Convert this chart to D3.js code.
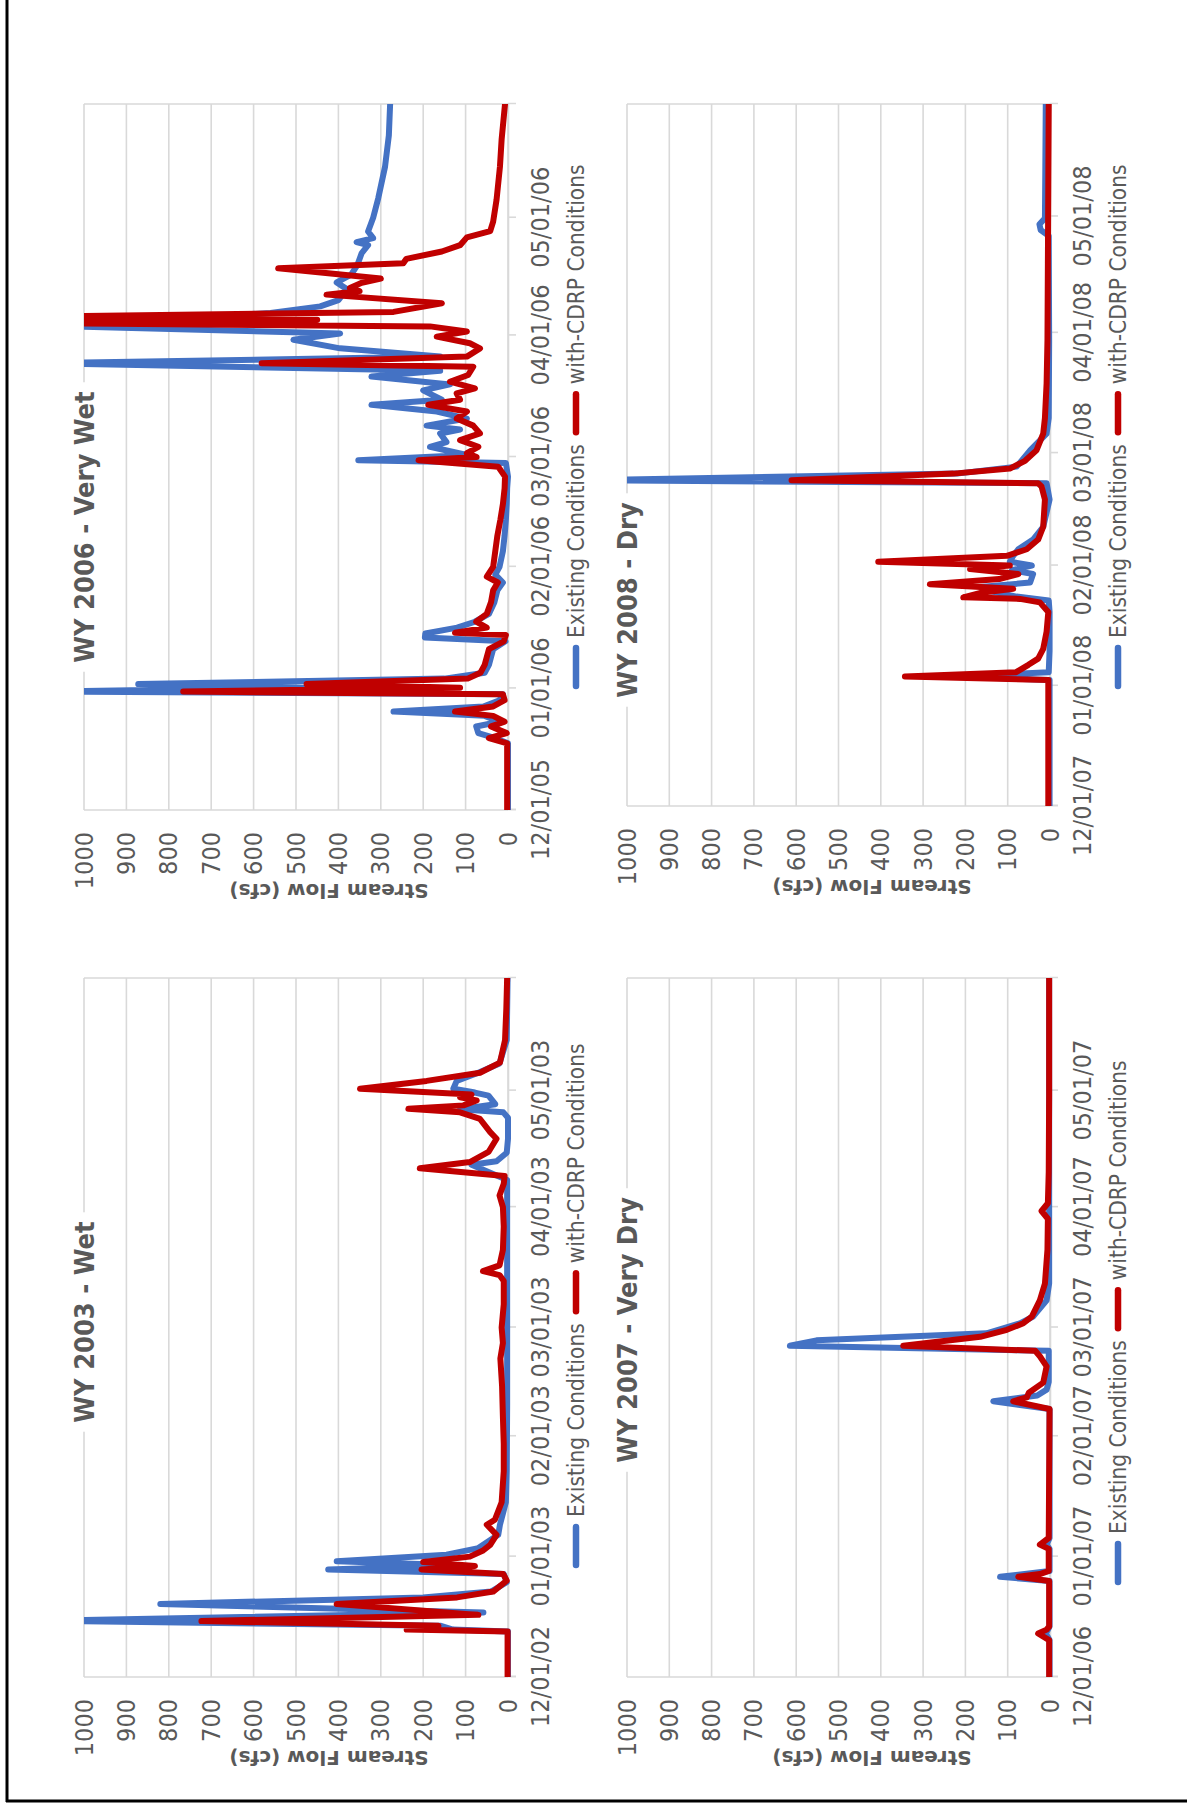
<!DOCTYPE html>
<html>
<head>
<meta charset="utf-8">
<script src="https://cdn.jsdelivr.net/npm/d3@7"></script>
<style>
  body { margin: 0; background: #fff; }
  svg { display: block; }
  text { fill: #595959; }
</style>
</head>
<body>
<svg id="page" width="1187" height="1809"></svg>
<script>
// stream flow, [days after Dec 1, cfs]
var wy2006Existing = [[0,0],[17,0],[18.3,30],[19.6,70],[21.3,75],[22.5,20],[24,55],[25.1,270],[26.4,58],[28,20],[29.5,12],[30.2,1100],[31.2,480],[32.1,872],[33.5,150],[35,55],[37,45],[39,40],[41,35],[43,6],[44,196],[45,195],[46.5,120],[48,78],[50,45],[53,32],[56,25],[58,12],[60,30],[62,20],[66,12],[70,8],[74,5],[78,3],[82,2],[85,0],[88.5,5],[89.2,353],[90.5,97],[92.6,184],[93.8,145],[96,160],[97,113],[98,192],[99.8,97],[101.6,168],[103.3,322],[104.6,156],[107,200],[108.5,137],[110.5,322],[112,160],[113.9,1100],[115.6,160],[117.7,396],[119.9,506],[121.5,396],[123.5,1100],[126.7,560],[128.4,443],[130,400],[132.8,380],[134.5,404],[136.5,370],[139,355],[142,345],[144,330],[144.8,357],[145.8,318],[147.5,330],[151,318],[156,306],[164,290],[172,281],[180,278]];
var wy2006Cdrp = [[0,2],[17,2],[18.3,45],[19.6,3],[21.3,40],[22.5,8],[24,35],[25.1,125],[26.4,35],[28,8],[29.5,12],[30.2,766],[31.2,113],[32.1,475],[33.5,95],[35,65],[37,55],[39,50],[41,45],[43,10],[44.6,5],[45.2,125],[46.5,50],[48,75],[50,50],[53,40],[56,35],[58,24],[59.5,50],[62,35],[66,30],[70,25],[74,18],[78,12],[82,8],[85,7],[87.5,23],[89.2,211],[90,74],[91,97],[92.6,70],[94.3,113],[96,66],[98,82],[99.8,121],[101.6,97],[103.3,188],[104.6,113],[106.2,121],[107.5,78],[109.2,137],[110.9,94],[113,82],[113.9,581],[115.6,97],[117.7,66],[119,90],[120.7,168],[122,97],[123.3,184],[124.1,1100],[125,450],[125.8,1100],[127,270],[129.2,156],[131.4,428],[132.3,350],[133.1,373],[134.4,345],[135.5,300],[138.1,542],[139.4,247],[140.5,240],[142.4,156],[144,113],[146,97],[147.6,42],[150,35],[155.6,27],[164,19],[171,15],[180,7]];

var wy2008Existing = [[0,1],[32.5,1],[33.4,230],[34.5,3],[40,1],[50,1],[53,3],[54,79],[55.5,145],[56.5,165],[57.6,47],[59.8,40],[60.8,90],[62,43],[63,95],[64.5,87],[66.2,75],[68.7,40],[72,16],[79,1],[83.2,8],[84,1100],[85.7,220],[87.5,79],[91.7,47],[96,8],[100,3],[120,2],[147,3],[148.5,22],[150,25],[151.5,12],[165,11],[181,10]];
var wy2008Cdrp = [[0,4],[32.5,4],[33.4,343],[34.5,80],[36.4,51],[38,28],[40.5,16],[45,8],[50,4],[52.5,24],[53.4,71],[53.8,205],[55,162],[56,87],[57.2,284],[58.5,120],[59.8,75],[61.1,189],[62,95],[63,406],[64.5,102],[66.2,55],[68.7,28],[72,16],[79,12],[82.4,20],[83.2,28],[84,611],[85.7,228],[87,95],[89,59],[91.7,32],[96,16],[100,12],[109,8],[120,6],[140,5],[160,4],[181,3]];

var wy2003Existing = [[0,0],[11.7,0],[12.2,130],[13.2,160],[14.5,1100],[16.6,58],[18.8,820],[20.5,200],[22,40],[24.4,3],[26.5,10],[27.7,424],[28.8,120],[29.8,404],[31.5,145],[33.2,70],[36.6,23],[39.2,19],[45,5],[53,3],[70,2],[100,2],[128,2],[131.9,86],[132.8,27],[135,3],[138.6,0],[144,0],[145.4,11],[146.2,113],[147.5,30],[149.7,46],[150.5,78],[151.5,129],[153.5,121],[155.6,70],[158,20],[164,3],[180,1]];
var wy2003Cdrp = [[0,1],[11.7,1],[12.2,239],[13.2,164],[14.4,723],[16,70],[18.8,404],[20.5,120],[22,35],[24.8,3],[26.5,11],[27.7,204],[28.6,78],[29.6,200],[31,90],[32.5,60],[34,42],[36.6,27],[39.2,50],[40.5,31],[45,15],[53,10],[60,10],[67,12],[75,14],[82,18],[86,12],[90,15],[96,10],[102,10],[103.5,20],[104.5,59],[106,20],[110,12],[116,10],[121,12],[124,20],[127,10],[129,8],[131,208],[132.6,90],[135.2,46],[138.6,27],[140.3,42],[143.7,66],[145.4,113],[146.3,235],[147.2,105],[148.5,74],[149.3,113],[150,86],[151.5,349],[153.5,192],[155.6,66],[158.2,19],[164,7],[172,4],[180,2]];

var wy2007Existing = [[0,1],[9.5,1],[11.2,10],[13,1],[24.7,1],[25.8,118],[27.3,1],[33,1],[34.1,8],[35.8,1],[69,1],[71,134],[72.5,30],[74,8],[76,3],[84,3],[85.3,615],[86.7,552],[88.5,150],[91.1,70],[92.8,40],[97,8],[101.3,2],[180,2]];
var wy2007Cdrp = [[0,2],[9.5,2],[11.2,28],[12.2,8],[13,2],[24.7,2],[25.8,75],[26.5,24],[27.3,3],[33,3],[34.1,24],[35.8,3],[69,1],[71,87],[72,55],[73.2,50],[75.8,16],[80,8],[82.6,24],[84,35],[85.3,347],[87.6,165],[89.4,102],[91.1,63],[92.8,43],[97,24],[101.3,12],[110,6],[118,5],[120,20],[122,5],[130,3],[150,2],[180,2]];

var flowTicks = [0, 100, 200, 300, 400, 500, 600, 700, 800, 900, 1000];
var seriesNames = ["Existing Conditions", "with-CDRP Conditions"];
var seriesColors = ["#4472C4", "#C00000"];
var axisTitle = "Stream Flow (cfs)";

// page placement of each (rotated) chart
var charts = [
  { title: "WY 2006 - Very Wet", year: 2006, left: 84, right: 508, top: 104, bottom: 810, titleX: 283, legendX: 172, series: [wy2006Existing, wy2006Cdrp] },
  { title: "WY 2008 - Dry", year: 2008, left: 627, right: 1050, top: 104, bottom: 806, titleX: 206, legendX: 168, series: [wy2008Existing, wy2008Cdrp] },
  { title: "WY 2003 - Wet", year: 2003, left: 84, right: 508, top: 978, bottom: 1677, titleX: 355, legendX: 160, series: [wy2003Existing, wy2003Cdrp] },
  { title: "WY 2007 - Very Dry", year: 2007, left: 627, right: 1050, top: 978, bottom: 1677, titleX: 347, legendX: 143, series: [wy2007Existing, wy2007Cdrp] }
];

var font = "'Liberation Sans Narrow', 'Arial Narrow', 'DejaVu Sans Condensed', 'Liberation Sans', sans-serif";
var svg = d3.select("#page");

// page frame
svg.append("line").attr("x1", 7).attr("x2", 7).attr("y1", 0).attr("y2", 1802)
  .attr("stroke", "#000").attr("stroke-width", 3);
svg.append("line").attr("x1", 6).attr("x2", 1187).attr("y1", 1801).attr("y2", 1801)
  .attr("stroke", "#000").attr("stroke-width", 3);

function drawChart(c, idx) {
  var W = c.bottom - c.top, H = c.right - c.left;
  var start = new Date(c.year - 1, 11, 1), end = new Date(c.year, 4, 30);
  var x = d3.scaleTime().domain([start, end]).range([0, W]);
  var y = d3.scaleLinear().domain([0, 1000]).range([H, 0]);
  var dayDate = function (d) { return new Date(+start + d * 864e5); };

  // whole chart is turned a quarter turn counter-clockwise
  var g = svg.append("g")
    .attr("transform", "translate(" + c.left + "," + c.bottom + ") rotate(-90)");

  // gridlines
  g.selectAll("line.ygrid")
    .data(flowTicks)
    .enter()
    .append("line")
    .attr("class", "ygrid")
    .attr("x1", 0)
    .attr("x2", W)
    .attr("y1", function (d) { return y(d); })
    .attr("y2", function (d) { return y(d); })
    .attr("stroke", "#d9d9d9")
    .attr("stroke-width", 1.6);
  g.selectAll("line.edge")
    .data([start, end])
    .enter()
    .append("line")
    .attr("class", "edge")
    .attr("x1", function (d) { return x(d); })
    .attr("x2", function (d) { return x(d); })
    .attr("y1", 0)
    .attr("y2", H)
    .attr("stroke", "#d9d9d9")
    .attr("stroke-width", 1.6);

  // date axis
  var months = d3.timeMonth.range(start, end);
  var xaxis = d3.axisBottom(x)
    .tickValues(months)
    .tickFormat(d3.timeFormat("%m/%d/%y"))
    .tickSize(8)
    .tickPadding(15);
  var xg = g.append("g")
    .attr("transform", "translate(0," + H + ")")
    .call(xaxis);
  xg.select(".domain").attr("stroke", "#d9d9d9").attr("stroke-width", 1.6);
  xg.selectAll(".tick line").attr("stroke", "#d9d9d9").attr("stroke-width", 1.6);
  xg.selectAll("text").style("font-family", font).style("font-size", "25px").attr("fill", "#595959");

  // flow axis
  var yaxis = d3.axisLeft(y).tickValues(flowTicks).tickFormat(d3.format("d")).tickSize(0).tickPadding(22);
  var yg = g.append("g").call(yaxis);
  yg.select(".domain").remove();
  yg.selectAll("text").style("font-family", font).style("font-size", "25px").attr("fill", "#595959");

  g.append("text")
    .attr("transform", "translate(-74," + 245 + ") rotate(-90)")
    .attr("text-anchor", "middle")
    .style("font-family", "'DejaVu Sans', sans-serif")
    .style("font-weight", "bold")
    .style("font-size", "20px")
    .text(axisTitle);

  // lines
  var clipId = "clip" + idx;
  g.append("clipPath").attr("id", clipId)
    .append("rect").attr("x", 0).attr("y", 0).attr("width", W).attr("height", H + 12);
  var line = d3.line()
    .x(function (d) { return x(dayDate(d[0])); })
    .y(function (d) { return y(d[1]); });
  c.series.forEach(function (s, i) {
    g.append("path")
      .datum(s)
      .attr("clip-path", "url(#" + clipId + ")")
      .attr("d", line)
      .attr("fill", "none")
      .attr("stroke", seriesColors[i])
      .attr("stroke-width", 6)
      .attr("stroke-linejoin", "round")
      .attr("stroke-linecap", "round");
  });

  // title over the plot edge
  var tg = g.append("g");
  var bg = tg.append("rect").attr("fill", "#fff");
  var tt = tg.append("text")
    .attr("x", c.titleX)
    .attr("y", 10)
    .attr("text-anchor", "middle")
    .style("font-family", font)
    .style("font-weight", "bold")
    .style("font-size", "27px")
    .text(c.title);
  var tl = tt.node().getComputedTextLength();
  bg.attr("x", c.titleX - tl / 2 - 9).attr("y", -18).attr("width", tl + 18).attr("height", 36);

  // legend
  var ly = H + 76, lx = c.legendX;
  seriesNames.forEach(function (name, i) {
    g.append("line")
      .attr("x1", lx - 48).attr("x2", lx - 10)
      .attr("y1", ly - 8).attr("y2", ly - 8)
      .attr("stroke", seriesColors[i])
      .attr("stroke-width", 6.5)
      .attr("stroke-linecap", "round");
    var t = g.append("text")
      .attr("x", lx)
      .attr("y", ly)
      .style("font-family", font)
      .style("font-size", "22.5px")
      .text(name);
    lx += t.node().getComputedTextLength() + 60;
  });
}

charts.forEach(drawChart);
</script>
</body>
</html>
